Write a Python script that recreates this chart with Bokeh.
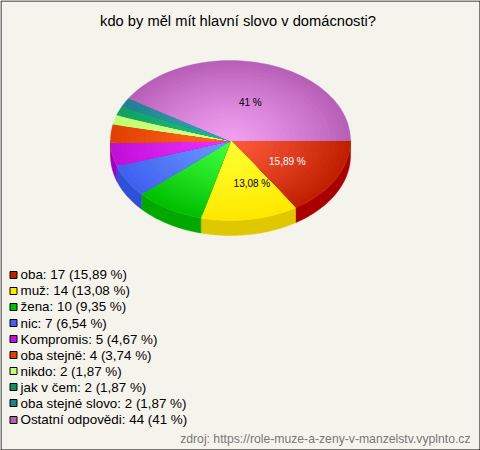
from bokeh.embed import file_html
from bokeh.resources import INLINE
from bokeh.plotting import figure
from bokeh.core.properties import value
import numpy as np

TITLE = "kdo by měl mít hlavní slovo v domácnosti?"
SOURCE = "zdroj: https://role-muze-a-zeny-v-manzelstv.vyplnto.cz"
labels = ["oba", "muž", "žena", "nic", "Kompromis", "oba stejně", "nikdo", "jak v čem", "oba stejné slovo", "Ostatní odpovědi"]
counts = [17, 14, 10, 7, 5, 4, 2, 2, 2, 44]
percents = ["15,89", "13,08", "9,35", "6,54", "4,67", "3,74", "1,87", "1,87", "1,87", "41"]
inner = ["#FF5A3C", "#FFFF30", "#40FF40", "#6A98FF", "#EE30FF", "#FF6A20", "#DDFF90", "#20C080", "#30A8B0", "#F2A0F2"]
outer = ["#C02000", "#FFE800", "#00C000", "#4060F0", "#C010D8", "#E04000", "#C0FF70", "#10A060", "#208090", "#B860B8"]
side = ["#AA0000", "#E0C800", "#00A800", "#3050D8", "#A000C0", "#C03000", "#A0D060", "#108050", "#106070", "#904090"]
swatch = ["#C02000", "#FFE800", "#00C000", "#4060F0", "#C010D8", "#E04000", "#C0FF70", "#109060", "#208090", "#B860B8"]
slice_labels = {0: ("15,89 %", "#FFFFFF", 0, 0), 1: ("13,08 %", "#000000", 11, 0), 9: ("41 %", "#000000", 2, 3.5)}

CX, CY, RX, RY, DEPTH = 230.0, 140.0, 120.0, 80.0, 15.0
W, H = 480, 450
RINGS = 24

def hexrgb(c):
    return np.array([int(c[i:i + 2], 16) for i in (1, 3, 5)], float)

def mix(a, b, t):
    r = hexrgb(a) * (1 - t) + hexrgb(b) * t
    return "#%02X%02X%02X" % tuple(int(round(v)) for v in r)

p = figure(width=W, height=H, x_range=(0, W), y_range=(H, 0), toolbar_location=None,
           output_backend="svg", min_border=0,
           background_fill_color="#F5F4EC", border_fill_color="#F5F4EC", outline_line_color=None)
p.axis.visible = False
p.grid.visible = False

# frame
p.line(x=[0.5, W - 0.5, W - 0.5, 0.5, 0.5], y=[0.5, 0.5, H - 0.5, H - 0.5, 0.5], line_color="#000000", line_width=1)

shares = np.array(counts, float) / sum(counts)
edges = np.concatenate([[0], np.cumsum(shares)]) * 2 * np.pi

# side wall, clockwise from east, only the near half
for i in range(len(counts)):
    a0, a1 = edges[i], min(edges[i + 1], np.pi)
    if a0 >= np.pi:
        continue
    t = np.linspace(a0, a1, 40)
    x = CX + RX * np.cos(t)
    y = CY + RY * np.sin(t)
    p.patch(np.r_[x, x[::-1]], np.r_[y, y[::-1] + DEPTH], fill_color=side[i], line_color=side[i], line_width=0.5)

# top face: rings from the rim inward so the radial shading is built up
for i in range(len(counts)):
    t = np.linspace(edges[i], edges[i + 1], 60)
    for k in range(RINGS, 0, -1):
        f = k / RINGS
        x = np.r_[CX, CX + f * RX * np.cos(t)]
        y = np.r_[CY, CY + f * RY * np.sin(t)]
        c = mix(inner[i], outer[i], f ** 1.2)
        p.patch(x, y, fill_color=c, line_color=c, line_width=0.4)

# slice labels
for i, (txt, col, dx, dy) in slice_labels.items():
    mid = (edges[i] + edges[i + 1]) / 2
    x = CX + 0.54 * RX * np.cos(mid) + dx
    y = CY + 0.54 * RY * np.sin(mid) + dy
    p.text(x=[x], y=[y], text=[txt], text_color=col, text_font=value("Liberation Sans"),
           text_font_size="10px", text_align="center", text_baseline="middle")

# title and source
p.text(x=[237.5], y=[20], text=[TITLE], text_font=value("Liberation Sans"), text_font_size="14.7px",
       text_align="center", text_baseline="middle", text_color="#000000")
p.text(x=[470], y=[438.5], text=[SOURCE], text_font=value("Liberation Sans"), text_font_size="12.2px",
       text_align="right", text_baseline="middle", text_color="#777777")

# legend
ly = [274.3 + 16.08 * i for i in range(len(labels))]
sy = [float(np.floor(v)) + 0.5 for v in ly]
p.rect(x=[13] * len(labels), y=sy, width=7, height=7, fill_color=swatch, line_color="#000000", line_width=1)
ltext = [f"{a}: {b} ({c} %)" for a, b, c in zip(labels, counts, percents)]
p.text(x=[20] * len(labels), y=ly, text=ltext, text_font=value("Liberation Sans"), text_font_size="13.4px",
       text_align="left", text_baseline="middle", text_color="#000000")

open("out.html", "w").write(file_html(p, INLINE))
